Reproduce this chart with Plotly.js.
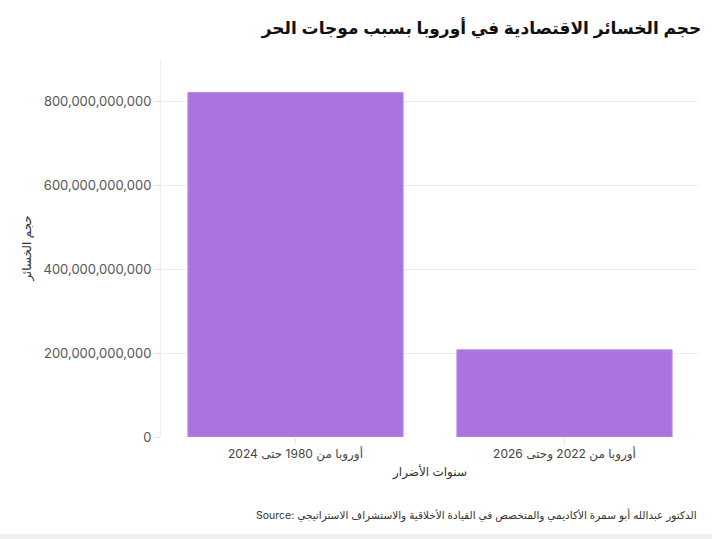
<!DOCTYPE html>
<html>
<head>
<meta charset="utf-8">
<script src="https://cdn.plot.ly/plotly-3.0.1.min.js"></script>
<style>
  html, body { margin: 0; padding: 0; background: #f0f0f0; }
  #chart_losses { width: 712px; height: 534px; background: #ffffff; }
</style>
</head>
<body>
<div id="chart_losses"></div>
<script>
// Economic losses in Europe from heat waves

var periods = ['أوروبا من 1980 حتى 2024', 'أوروبا من 2022 وحتى 2026'];
var losses = [822000000000, 208000000000];

var bars = {
  x: periods,
  y: losses,
  type: 'bar',
  hoverinfo: 'none',
  marker: {
    color: '#ab73df',
    line: { color: '#b98be4', width: 1 }
  }
};

var layout = {
  font: {
    family: 'Inter, "DejaVu Sans", sans-serif',
    size: 13,
    color: '#555555'
  },
  showlegend: false,
  paper_bgcolor: '#ffffff',
  plot_bgcolor: '#ffffff',
  bargap: 0.2,
  title: {
    text: '<b>حجم الخسائر الاقتصادية في أوروبا بسبب موجات الحر</b>',
    font: { family: '"Liberation Sans", "DejaVu Sans", sans-serif', size: 17, color: '#111111' },
    xref: 'container',
    x: 0.985,
    xanchor: 'right',
    yref: 'container',
    y: 0.948,
    yanchor: 'middle'
  },
  margin: { l: 161, r: 13, t: 59, b: 97 },
  xaxis: {
    title: {
      text: 'سنوات الأضرار',
      font: { size: 12, color: '#333333' },
      standoff: 6
    },
    ticks: 'outside',
    ticklen: 6,
    tickcolor: '#e6e6e6',
    showgrid: false,
    tickfont: { size: 12, color: '#444444' }
  },
  yaxis: {
    title: {
      text: 'حجم الخسائر',
      font: { size: 12, color: '#333333' },
      standoff: 9
    },
    range: [0, 902000000000],
    tickvals: [0, 200000000000, 400000000000, 600000000000, 800000000000],
    tickformat: ',d',
    ticks: 'outside',
    ticklen: 6,
    tickcolor: '#e6e6e6',
    gridcolor: '#ececec',
    showline: true,
    linecolor: '#ececec',
    zeroline: false
  },
  annotations: [{
    text: 'Source: الدكتور عبدالله أبو سمرة الأكاديمي والمتخصص في القيادة الأخلاقية والاستشراف الاستراتيجي',
    xref: 'paper',
    yref: 'paper',
    x: 1,
    y: -0.206,
    xanchor: 'right',
    yanchor: 'middle',
    showarrow: false,
    font: { size: 10.5, color: '#333333' }
  }]
};

Plotly.newPlot('chart_losses', [bars], layout, {
  displayModeBar: false,
  staticPlot: true
});
</script>
</body>
</html>
